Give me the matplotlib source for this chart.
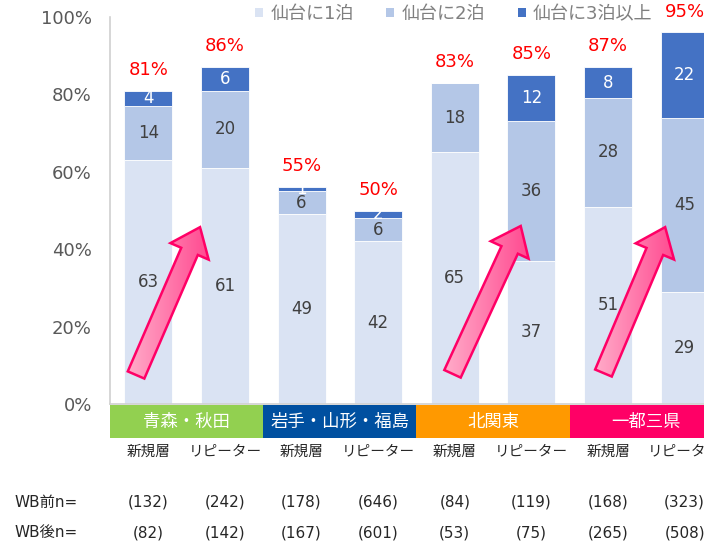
import numpy as np
import matplotlib
matplotlib.use("Agg")
import matplotlib.pyplot as plt
from matplotlib.patches import FancyArrowPatch, Rectangle, ArrowStyle, Patch
from matplotlib.colors import LinearSegmentedColormap
from matplotlib.transforms import blended_transform_factory

plt.rcParams['font.family'] = ['DejaVu Sans', 'Noto Sans CJK JP']

# ---- data ----
bar_labels = ['新規層', 'リピーター'] * 4
regions = ['青森・秋田', '岩手・山形・福島', '北関東', '一都三県']
region_colors = ['#92D050', '#0050A0', '#FF9900', '#FF0066']
stay1 = [63, 61, 49, 42, 65, 37, 51, 29]
stay2 = [14, 20, 6, 6, 18, 36, 28, 45]
stay3 = [4, 6, 1, 2, 0, 12, 8, 22]
totals = [81, 86, 55, 50, 83, 85, 87, 95]
n_before = [132, 242, 178, 646, 84, 119, 168, 323]
n_after = [82, 142, 167, 601, 53, 75, 265, 508]
series_names = ['仙台に1泊', '仙台に2泊', '仙台に3泊以上']
series_colors = ['#DAE3F3', '#B4C7E7', '#4472C4']
yticks = [0, 20, 40, 60, 80, 100]
# arrows: (x_from, y_from, x_to, y_to) in bar-index / percent units
arrows = [(-0.16, 7.5, 0.675, 45.7), (3.97, 7.8, 4.86, 46.0), (5.94, 8.0, 6.745, 45.7)]

W, H = 704, 546
fig = plt.figure(figsize=(W / 100, H / 100), dpi=100)
ax = fig.add_axes([110 / W, 1 - 404 / H, 613 / W, 387 / H])

x = np.arange(len(stay1))
bw = 0.627
s1 = np.array(stay1); s2 = np.array(stay2); s3 = np.array(stay3)
b1 = ax.bar(x, s1, bw, color=series_colors[0], edgecolor='white', linewidth=0.6, zorder=1)
b2 = ax.bar(x, s2, bw, bottom=s1, color=series_colors[1], edgecolor='white', linewidth=0.6, zorder=1)
b3 = ax.bar(x, s3, bw, bottom=s1 + s2, color=series_colors[2], edgecolor='white', linewidth=0.6, zorder=1)

for i in range(len(x)):
    ax.text(x[i], s1[i] / 2, str(s1[i]), ha='center', va='center', fontsize=12, color='#404040', zorder=2)
    ax.text(x[i], s1[i] + s2[i] / 2, str(s2[i]), ha='center', va='center', fontsize=12, color='#404040', zorder=2)
    if s3[i] > 0:
        ax.text(x[i], s1[i] + s2[i] + s3[i] / 2, str(s3[i]), ha='center', va='center', fontsize=12,
                color='white', zorder=2)
    top = s1[i] + s2[i] + s3[i]
    ax.annotate(f'{totals[i]}%', (x[i], top), xytext=(0, 15), textcoords='offset points',
                ha='center', va='center', fontsize=13, color='#FF0000', annotation_clip=False)

ax.set_xlim(-0.5, len(x) - 0.5)
ax.set_ylim(0, 100)
ax.set_yticks(yticks)
ax.set_yticklabels([f'{t}%' for t in yticks], fontsize=13, color='#595959')
ax.tick_params(axis='y', length=0, pad=13)
ax.set_xticks([])
for s in ['top', 'right']:
    ax.spines[s].set_visible(False)
ax.spines['left'].set_color('#D0D0D0')
ax.spines['bottom'].set_color('#D0D0D0')
ax.spines['left'].set_linewidth(1.2)
ax.spines['bottom'].set_linewidth(1.2)

# region bands
trb = blended_transform_factory(ax.transData, ax.transAxes)
for k, (name, col) in enumerate(zip(regions, region_colors)):
    r = Rectangle((-0.5 + 2 * k, -0.088), 2, 0.085, transform=trb, facecolor=col,
                  edgecolor='none', clip_on=False)
    ax.add_patch(r)
    ax.text(0.5 + 2 * k, -0.0455, name, transform=trb, ha='center', va='center',
            fontsize=12.5, color='white', clip_on=False)

# sub labels
for i, lab in enumerate(bar_labels):
    ax.text(x[i], -0.121, lab, transform=trb, ha='center', va='center', fontsize=10.5, color='#262626')

# n rows
trf = blended_transform_factory(ax.transData, fig.transFigure)
y_b = 1 - 502 / H
y_a = 1 - 533 / H
fig.text(15 / W, y_b, 'WB前n=', ha='left', va='center', fontsize=11, color='#262626')
fig.text(15 / W, y_a, 'WB後n=', ha='left', va='center', fontsize=11, color='#262626')
for i in range(len(x)):
    ax.text(x[i], y_b, f'({n_before[i]})', transform=trf, ha='center', va='center', fontsize=11, color='#262626')
    ax.text(x[i], y_a, f'({n_after[i]})', transform=trf, ha='center', va='center', fontsize=11, color='#262626')

# arrows with gradient
cmap = LinearSegmentedColormap.from_list('pk', ['#FFC2D6', '#FF3383'])
style = ArrowStyle.Simple(head_length=1.9, head_width=3.0, tail_width=1.3)
grad = np.linspace(0, 1, 256).reshape(1, -1)
for (xa, ya, xb, yb) in arrows:
    base = FancyArrowPatch((xa, ya), (xb, yb), arrowstyle=style, mutation_scale=10,
                           shrinkA=0, shrinkB=0, facecolor='#FF7AA8', edgecolor='none', lw=0, zorder=4)
    ax.add_patch(base)
    im = ax.imshow(grad, extent=(min(xa, xb) - 0.35, max(xa, xb) + 0.35, ya - 6, yb + 6),
                   cmap=cmap, aspect='auto', zorder=4.1, interpolation='bicubic')
    im.set_clip_path(base)
    edge = FancyArrowPatch((xa, ya), (xb, yb), arrowstyle=style, mutation_scale=10,
                           shrinkA=0, shrinkB=0, facecolor='none', edgecolor='#FF0066', lw=1.8,
                           joinstyle='miter', zorder=4.2)
    ax.add_patch(edge)

ax.set_xlim(-0.5, len(x) - 0.5)
ax.set_ylim(0, 100)

# legend
handles = [Patch(facecolor=c, edgecolor='none') for c in series_colors]
leg = fig.legend(handles, series_names, loc='upper left', bbox_to_anchor=(255 / W, 1 - 5 / H),
                 ncol=3, frameon=False, fontsize=13, handlelength=0.45, handleheight=0.45,
                 handletextpad=0.4, columnspacing=1.8, borderpad=0, borderaxespad=0)
for t in leg.get_texts():
    t.set_color('#7F7F7F')

fig.savefig('out.png', dpi=100)
